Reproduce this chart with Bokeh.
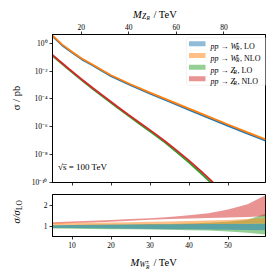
from math import pi
from bokeh.plotting import figure
from bokeh.models import (Range1d, LinearAxis, FixedTicker, CustomJSTickFormatter,
                          Label, BoxAnnotation)
from bokeh.layouts import column, row
from bokeh.embed import file_html
from bokeh.resources import INLINE

# ---------------- data ----------------
mw = [5, 7.5, 10, 12.5, 15, 20, 25, 30, 35, 40, 45, 50, 55, 59.6]          # M_W_R / TeV
w_nlo = [3.55, 0.79, 0.24, 0.079, 0.032, 5.0e-3, 1.12e-3, 2.8e-4, 7.6e-5,
         2.0e-5, 5.4e-6, 1.45e-6, 4.0e-7, 1.26e-7]                           # pb
w_lo = [3.1, 0.69, 0.21, 0.069, 0.028, 4.3e-3, 9.5e-4, 2.35e-4, 6.3e-5,
        1.65e-5, 4.4e-6, 1.17e-6, 3.2e-7, 1.0e-7]                            # pb

mz = [7.9, 10, 15, 20, 25, 30, 35, 40, 45, 50, 55, 60, 65, 70, 75, 78]      # M_Z_R / TeV
z_nlo = [0.141, 0.0708, 0.0135, 2.7e-3, 5.75e-4, 1.32e-4, 3.0e-5, 7.1e-6,
         1.74e-6, 4.3e-7, 1.0e-7, 2.1e-8, 4.2e-9, 7.4e-10, 1.2e-10, 4.0e-11]
z_lo = [0.123, 0.0615, 0.0117, 2.33e-3, 4.9e-4, 1.12e-4, 2.5e-5, 5.9e-6,
        1.42e-6, 3.45e-7, 7.9e-8, 1.6e-8, 3.1e-9, 5.2e-10, 8.2e-11, 2.6e-11]

# ratio panel (sigma / sigma_LO bands) vs M_W_R
mw_r = [5, 10, 15, 20, 25, 30, 35, 40, 45, 50, 55, 59.6]
w_lo_lo = [0.93, 0.92, 0.91, 0.90, 0.89, 0.88, 0.87, 0.86, 0.85, 0.84, 0.83, 0.82]
w_lo_hi = [1.06, 1.07, 1.08, 1.09, 1.09, 1.10, 1.10, 1.11, 1.11, 1.12, 1.12, 1.13]
w_nlo_lo = [1.06, 1.07, 1.07, 1.08, 1.09, 1.09, 1.10, 1.10, 1.11, 1.12, 1.13, 1.14]
w_nlo_hi = [1.16, 1.17, 1.18, 1.19, 1.20, 1.22, 1.24, 1.26, 1.28, 1.31, 1.35, 1.40]
z_lo_lo = [0.90, 0.89, 0.88, 0.87, 0.86, 0.85, 0.84, 0.82, 0.80, 0.76, 0.70, 0.62]
z_lo_hi = [1.06, 1.07, 1.08, 1.09, 1.10, 1.11, 1.12, 1.14, 1.17, 1.22, 1.32, 1.60]
z_nlo_lo = [1.13, 1.16, 1.19, 1.22, 1.27, 1.32, 1.35, 1.38, 1.40, 1.42, 1.45, 1.48]
z_nlo_hi = [1.20, 1.23, 1.27, 1.31, 1.35, 1.39, 1.45, 1.53, 1.63, 1.80, 2.05, 2.48]

mw_ticks = [10, 20, 30, 40, 50]
mz_ticks = [20, 40, 60, 80]
y_ticks = [1e-10, 1e-8, 1e-6, 1e-4, 1e-2, 1]
y_tick_labels = ["10⁻¹⁰", "10⁻⁸", "10⁻⁶", "10⁻⁴", "10⁻²", "10⁰"]
r_ticks = [1, 2]

colors = ["#1f77b4", "#ff7f0e", "#2ca02c", "#d62728"]
FONT = "Liberation Serif"


def style_axis(ax, ticks, show_labels=True):
    ax.ticker = FixedTicker(ticks=ticks, minor_ticks=[])
    ax.major_tick_out = 3
    ax.major_tick_in = 0
    ax.minor_tick_out = 0
    ax.minor_tick_in = 0
    ax.major_tick_line_color = "black"
    ax.major_tick_line_width = 0.8
    ax.axis_line_color = "black"
    ax.axis_line_width = 1
    ax.major_label_text_font = FONT
    ax.major_label_text_font_size = "7.5px"
    ax.major_label_text_color = "black"
    ax.major_label_standoff = 2
    if not show_labels:
        ax.formatter = CustomJSTickFormatter(code="return ''")


def lab(fig, text, x, y, size, style="normal", angle=0, align="left"):
    fig.add_layout(Label(x=x, y=y, x_units="screen", y_units="screen", text=text,
                         text_font=FONT, text_font_size=f"{size}px",
                         text_font_style=style, angle=angle, text_align=align,
                         text_baseline="alphabetic", text_color="black"))


def text_canvas(w, h):
    f = figure(width=w, height=h, x_axis_type=None, y_axis_type=None,
               output_backend="svg", toolbar_location=None, min_border=0)
    f.outline_line_color = None
    f.xgrid.visible = False
    f.ygrid.visible = False
    return f


x_range = Range1d(5, 59.6)

# ---------------- main panel ----------------
p = figure(width=246, height=168, x_range=x_range, y_range=Range1d(1e-10, 4.2),
           y_axis_type="log", output_backend="svg", toolbar_location=None,
           min_border_left=19, min_border_right=9, min_border_top=12, min_border_bottom=6)
p.extra_x_ranges = {"mz": Range1d(7.9, 97.5)}
p.xgrid.visible = False
p.ygrid.visible = False
p.outline_line_color = "black"
p.outline_line_width = 1

style_axis(p.xaxis[0], mw_ticks, show_labels=False)
style_axis(p.yaxis[0], y_ticks)
p.yaxis[0].formatter = CustomJSTickFormatter(
    args=dict(tv=y_ticks, tl=y_tick_labels),
    code="""
    for (let i = 0; i < tv.length; i++) {
        if (Math.abs(Math.log10(tv[i]) - Math.log10(tick)) < 1e-6) return tl[i];
    }
    return '';
    """)
top = LinearAxis(x_range_name="mz")
style_axis(top, mz_ticks)
p.add_layout(top, "above")

p.line(mw, w_lo, line_color=colors[0], line_width=1.8)
p.line(mw, w_nlo, line_color=colors[1], line_width=1.8)
p.line(mz, z_lo, line_color=colors[2], line_width=1.8, x_range_name="mz")
p.line(mz, z_nlo, line_color=colors[3], line_width=1.8, x_range_name="mz")

lab(p, "√s̅ = 100 TeV", 5.5, 15.5, 9)

# legend
p.add_layout(BoxAnnotation(left=134, right=215.7, bottom=97.3, top=144.7,
                           left_units="screen", right_units="screen",
                           top_units="screen", bottom_units="screen",
                           fill_color="white", fill_alpha=0.8,
                           line_color="#cccccc", line_width=0.8, border_radius=2))
entry_y = [138.7, 127.0, 115.3, 103.7]
boson = ["W", "W", "Z", "Z"]
order = ["LO", "NLO", "LO", "NLO"]
for i in range(4):
    cy = entry_y[i]
    p.add_layout(BoxAnnotation(left=136.5, right=153, bottom=cy - 2.5, top=cy + 2.5,
                               left_units="screen", right_units="screen",
                               top_units="screen", bottom_units="screen",
                               fill_color=colors[i], fill_alpha=0.5, line_alpha=0))
    base = cy - 2.8
    lab(p, "pp → " + boson[i], 158, base, 8, style="italic")
    if boson[i] == "W":
        lab(p, "±", 183.5, base + 2.8, 5.5)
        lab(p, "R", 183.5, base - 1.8, 5.5, style="italic")
        lab(p, ", " + order[i], 187.5, base, 8)
    else:
        lab(p, "R", 181.0, base - 1.8, 5.5, style="italic")
        lab(p, ", " + order[i], 185.0, base, 8)

# ---------------- ratio panel ----------------
q = figure(width=246, height=63, x_range=x_range, y_range=Range1d(0.52, 2.52),
           output_backend="svg", toolbar_location=None,
           min_border_left=19, min_border_right=9, min_border_top=6, min_border_bottom=15)
q.xgrid.visible = False
q.ygrid.visible = False
q.outline_line_color = "black"
q.outline_line_width = 1
style_axis(q.xaxis[0], mw_ticks)
style_axis(q.yaxis[0], r_ticks)

q.varea(mw_r, z_lo_lo, z_lo_hi, fill_color=colors[2], fill_alpha=0.5)
q.varea(mw_r, z_nlo_lo, z_nlo_hi, fill_color=colors[3], fill_alpha=0.5)
q.varea(mw_r, w_lo_lo, w_lo_hi, fill_color=colors[0], fill_alpha=0.5)
q.varea(mw_r, w_nlo_lo, w_nlo_hi, fill_color=colors[1], fill_alpha=0.5)

# ---------------- axis-label canvases (math composed as real text) ----------------
top_lab = text_canvas(274, 20)
lab(top_lab, "M", 132.5, 5.8, 10.5, style="italic")
lab(top_lab, "Z", 141.5, 3.8, 7.5, style="italic")
lab(top_lab, "R", 146.0, 2.6, 5.5, style="italic")
lab(top_lab, "/ TeV", 153.0, 5.8, 10.5)

left_lab = text_canvas(28, 231)
lab(left_lab, "σ / pb", 16, 153.5, 10.5, angle=pi / 2, align="center")
lab(left_lab, "σ/σ", 16, 28, 10.5, style="italic", angle=pi / 2)
lab(left_lab, "LO", 18.5, 41.5, 7.5, angle=pi / 2)

bot_lab = text_canvas(274, 23)
lab(bot_lab, "M", 130, 12, 10.5, style="italic")
lab(bot_lab, "W", 139, 10, 7.5, style="italic")
lab(bot_lab, "±", 145.5, 12.8, 5.5)
lab(bot_lab, "R", 145.5, 7.5, 5.5, style="italic")
lab(bot_lab, "/ TeV", 153, 12, 10.5)

layout = column(top_lab,
                row(left_lab, column(p, q, spacing=0), spacing=0),
                bot_lab, spacing=0)
open("out.html", "w").write(file_html(layout, INLINE))
